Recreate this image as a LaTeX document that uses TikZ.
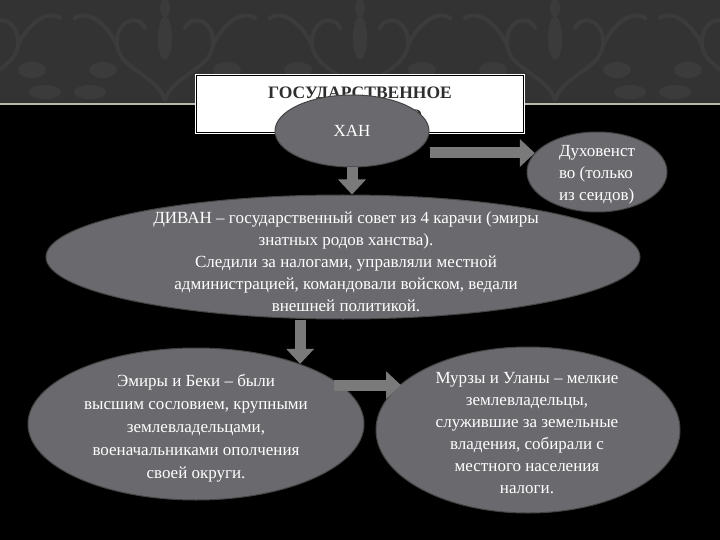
\documentclass[tikz,border=0pt]{standalone}
\usepackage{fontspec}
\setmainfont{Liberation Serif}
\usetikzlibrary{shapes.geometric,arrows.meta}
\definecolor{bandgray}{HTML}{333333}
\definecolor{dmkgray}{HTML}{3B3B3B}
\definecolor{linegray}{HTML}{B8B8AC}
\definecolor{ellfill}{HTML}{6A6A6E}
\definecolor{elldraw}{HTML}{454545}
\definecolor{arrfill}{HTML}{7A7A7A}
\definecolor{titletext}{HTML}{2E2E2E}
\begin{document}
\begin{tikzpicture}[x=1pt,y=-1pt,
  oval/.style={ellipse, fill=ellfill, draw=elldraw, line width=1pt, inner sep=0pt},
  txt/.style={text=white, font=\fontsize{17}{22}\selectfont, align=center, inner sep=0pt},
  blockarrow/.style={line width=11pt, draw=arrfill, -{Triangle[width=27pt,length=15pt]}},
  dmk/.style={draw=dmkgray, line width=4pt, line cap=round},
  damask/.pic={
    \foreach \s in {1,-1}{
      \draw[dmk] (0,100) .. controls (\s*8,75) and (\s*45,70) .. (\s*48,45)
                 .. controls (\s*50,22) and (\s*28,12) .. (\s*20,28);
      \draw[dmk] (\s*48,45) .. controls (\s*60,20) and (\s*80,10) .. (\s*90,18);
      \fill[dmkgray] (\s*62,70) ellipse (14 and 8);
      \fill[dmkgray] (\s*75,92) ellipse (16 and 7);
    }
    \fill[dmkgray] (0,38) ellipse (7 and 22);
    \fill[dmkgray] (0,8) ellipse (5 and 9);
  },
]
\useasboundingbox (0,0) rectangle (720,540);
\fill[black] (0,0) rectangle (720,540);
\begin{scope}
\clip (0,0) rectangle (720,103);
\fill[bandgray] (0,0) rectangle (720,103);
\foreach \cx in {-30,165,360,555,750} { \pic at (\cx,0) {damask}; }
\end{scope}
\draw[linegray, line width=2pt] (0,104) -- (720,104);

% title box
\node[fill=white, minimum width=330pt, minimum height=60pt, inner sep=0pt] (titlebox) at (360,104) {};
\draw[black, line width=0.8pt] ([shift={(2,2)}]titlebox.north west) rectangle ([shift={(-2,-2)}]titlebox.south east);
\node[font=\bfseries\fontsize{17.5}{23}\selectfont, text=titletext, align=center, inner sep=0pt] (title) at (360,104) {ГОСУДАРСТВЕННОЕ\\УСТРОЙСТВО};

% ovals
\node[oval, minimum width=154pt, minimum height=72pt] (han) at (352,131) {};
\node[oval, minimum width=140pt, minimum height=80pt] (dukh) at (597,172) {};
\node[oval, minimum width=594pt, minimum height=124pt] (divan) at (343,257) {};
\node[oval, minimum width=336pt, minimum height=152pt] (emiry) at (196,424) {};
\node[oval, minimum width=304pt, minimum height=166pt] (murzy) at (528,430) {};

% arrows
\coordinate (a2s) at ([yshift=-22pt]han.east);
\coordinate (a4s) at ([xshift=-7pt]emiry.15.3);
\draw[blockarrow] (han.south) -- (han.south |- divan.north);
\draw[blockarrow] (a2s) -- (dukh.163 |- a2s);
\draw[blockarrow] (emiry.30 |- divan.south) -- (emiry.30);
\draw[blockarrow] (a4s) -- (murzy.160.5 |- a4s);

% texts
\node[txt] (hantext) at (han) {ХАН};
\node[txt, align=left] (dukhtext) at (597,175) {Духовенст\\во (только\\из сеидов)};
\node[txt] (divantext) at (346,262) {ДИВАН – государственный совет из 4 карачи (эмиры\\знатных родов ханства).\\Следили за налогами, управляли местной\\администрацией, командовали войском, ведали\\внешней политикой.};
\node[txt, font=\fontsize{17}{23}\selectfont] (emirytext) at (196,428) {Эмиры и Беки – были\\высшим сословием, крупными\\землевладельцами,\\военачальниками ополчения\\своей округи.};
\node[txt] (murzytext) at (527,433) {Мурзы и Уланы – мелкие\\землевладельцы,\\служившие за земельные\\владения, собирали с\\местного населения\\налоги.};
\end{tikzpicture}
\end{document}
